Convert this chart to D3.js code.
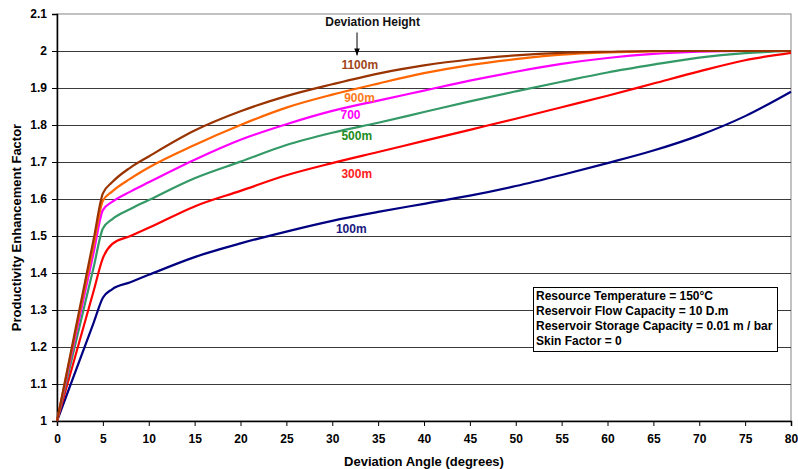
<!DOCTYPE html>
<html>
<head>
<meta charset="utf-8">
<script src="https://cdn.jsdelivr.net/npm/d3@7"></script>
<style>
  body { margin: 0; background: #fff; }
  svg text { font-family: "Liberation Sans", Arial, sans-serif; font-weight: bold; }
</style>
</head>
<body>
<svg id="chart" width="798" height="469"></svg>
<script>
// deviation angle (degrees)
const angles = [0, 4, 5, 6, 8, 10, 15, 20, 25, 30, 35, 40, 45, 50, 55, 60, 65, 70, 75, 80];

// productivity enhancement factor per deviation height
const pef100 = [1, 1.266, 1.333, 1.356, 1.375, 1.395, 1.443, 1.480, 1.512, 1.541, 1.565, 1.587, 1.609, 1.635, 1.665, 1.697, 1.731, 1.772, 1.824, 1.890];
const pef300 = [1, 1.352, 1.440, 1.478, 1.500, 1.522, 1.580, 1.622, 1.664, 1.697, 1.727, 1.757, 1.787, 1.817, 1.848, 1.879, 1.912, 1.945, 1.975, 1.995];
const pef500 = [1, 1.416, 1.520, 1.545, 1.573, 1.597, 1.656, 1.701, 1.746, 1.779, 1.806, 1.835, 1.864, 1.891, 1.917, 1.942, 1.963, 1.982, 1.994, 2.000];
const pef700 = [1, 1.456, 1.570, 1.592, 1.620, 1.645, 1.706, 1.760, 1.802, 1.838, 1.866, 1.893, 1.920, 1.944, 1.965, 1.981, 1.992, 1.998, 2.000, 2.000];
const pef900 = [1, 1.476, 1.595, 1.620, 1.655, 1.685, 1.746, 1.800, 1.847, 1.882, 1.912, 1.940, 1.962, 1.978, 1.990, 1.996, 1.999, 2.000, 2.000, 2.000];
const pef1100 = [1, 1.492, 1.615, 1.645, 1.685, 1.715, 1.785, 1.837, 1.878, 1.910, 1.939, 1.961, 1.977, 1.988, 1.995, 1.998, 2.000, 2.000, 2.000, 2.000];

const seriesNames = ["100m", "300m", "500m", "700", "900m", "1100m"];
const seriesValues = [pef100, pef300, pef500, pef700, pef900, pef1100];

const xTicks = d3.range(0, 81, 5);
const yTicks = [1, 1.1, 1.2, 1.3, 1.4, 1.5, 1.6, 1.7, 1.8, 1.9, 2, 2.1];

const noteLines = [
  "Resource Temperature = 150°C",
  "Reservoir Flow Capacity = 10 D.m",
  "Reservoir Storage Capacity = 0.01 m / bar",
  "Skin Factor = 0"
];

// styling
const lineColors = ["#000080", "#ff0000", "#339966", "#ff00ff", "#ff6600", "#993300"];
const labelColors = ["#1a1a80", "#ff2020", "#1c8c1c", "#ff00ff", "#ff7a1a", "#a0451a"];
// label anchors (angle, factor)
const labelPos = [[30.4, 1.519], [31.0, 1.668], [31.0, 1.770], [30.9, 1.827], [31.3, 1.873], [31.0, 1.962]];

const svg = d3.select("#chart");
const margin = { left: 57, right: 7, top: 14, bottom: 48 };
const width = 798, height = 469;

const x = d3.scaleLinear().domain([0, 80]).range([margin.left, width - margin.right]);
const y = d3.scaleLinear().domain([1, 2.1]).range([height - margin.bottom, margin.top]);

// frame
svg.append("rect")
  .attr("x", x(0)).attr("y", y(2.1))
  .attr("width", x(80) - x(0)).attr("height", y(1) - y(2.1))
  .attr("fill", "none").attr("stroke", "#999").attr("stroke-width", 1.2);

// grid
svg.append("g").selectAll("line")
  .data(yTicks.filter(v => v > 1 && v < 2.1))
  .enter().append("line")
  .attr("x1", x(0)).attr("x2", x(80))
  .attr("y1", d => Math.round(y(d)) + 0.5).attr("y2", d => Math.round(y(d)) + 0.5)
  .attr("stroke", "#3a3a3a").attr("stroke-width", 1);

// axes
const xAxis = svg.append("g")
  .attr("transform", `translate(0,${y(1)})`)
  .call(d3.axisBottom(x).tickValues(xTicks).tickSize(5).tickPadding(8));
const yAxis = svg.append("g")
  .attr("transform", `translate(${x(0)},0)`)
  .call(d3.axisLeft(y).tickValues(yTicks).tickSize(5).tickPadding(5).tickFormat(d3.format("")));
[xAxis, yAxis].forEach(a => {
  a.select(".domain").attr("stroke", "#000").attr("stroke-width", 1.5);
  a.selectAll(".tick line").attr("stroke", "#000");
  a.selectAll(".tick text").attr("font-size", 12).attr("fill", "#000")
    .style("font-family", "'Liberation Sans', Arial, sans-serif").style("font-weight", "bold");
});

// lines
const line = d3.line()
  .x((d, i) => x(angles[i]))
  .y(d => y(d))
  .curve(d3.curveMonotoneX);

svg.append("g").selectAll("path")
  .data(seriesValues)
  .enter().append("path")
  .attr("d", d => line(d))
  .attr("fill", "none")
  .attr("stroke", (d, i) => lineColors[i])
  .attr("stroke-width", 2.2)
  .attr("stroke-linejoin", "round");

// series labels
svg.append("g").selectAll("text")
  .data(seriesNames)
  .enter().append("text")
  .attr("x", (d, i) => x(labelPos[i][0]))
  .attr("y", (d, i) => y(labelPos[i][1]))
  .attr("dy", "0.35em")
  .attr("font-size", 12)
  .attr("fill", (d, i) => labelColors[i])
  .text(d => d);

// deviation height annotation
svg.append("defs").append("marker")
  .attr("id", "arrow").attr("viewBox", "0 0 10 10")
  .attr("refX", 10).attr("refY", 5)
  .attr("markerWidth", 7).attr("markerHeight", 7)
  .attr("orient", "auto")
  .append("path").attr("d", "M0,1 L10,5 L0,9 Z").attr("fill", "#000");

svg.append("text")
  .attr("x", x(34.4)).attr("y", y(2.068))
  .attr("text-anchor", "middle")
  .attr("font-size", 12)
  .attr("fill", "#111")
  .text("Deviation Height");
svg.append("line")
  .attr("x1", x(32.7)).attr("x2", x(32.7))
  .attr("y1", y(2.05)).attr("y2", y(1.988))
  .attr("stroke", "#000").attr("stroke-width", 1)
  .attr("marker-end", "url(#arrow)");

// notes box
const boxX = 533, boxY = 287, boxW = 244, boxH = 64;
svg.append("rect")
  .attr("x", boxX + 0.5).attr("y", boxY + 0.5)
  .attr("width", boxW).attr("height", boxH)
  .attr("fill", "#fff").attr("stroke", "#000").attr("stroke-width", 1);
svg.append("g").selectAll("text")
  .data(noteLines)
  .enter().append("text")
  .attr("x", boxX + 3)
  .attr("y", (d, i) => boxY + 8.5 + i * 15.2)
  .attr("dy", "0.35em")
  .attr("font-size", 12)
  .attr("fill", "#000")
  .text(d => d);

// axis titles
svg.append("text")
  .attr("x", (x(0) + x(80)) / 2).attr("y", 466)
  .attr("text-anchor", "middle")
  .attr("font-size", 13)
  .text("Deviation Angle (degrees)");
svg.append("text")
  .attr("transform", `translate(21,${(y(1) + y(2.1)) / 2 + 10}) rotate(-90)`)
  .attr("text-anchor", "middle")
  .attr("font-size", 13)
  .text("Productivity Enhancement Factor");
</script>
</body>
</html>
